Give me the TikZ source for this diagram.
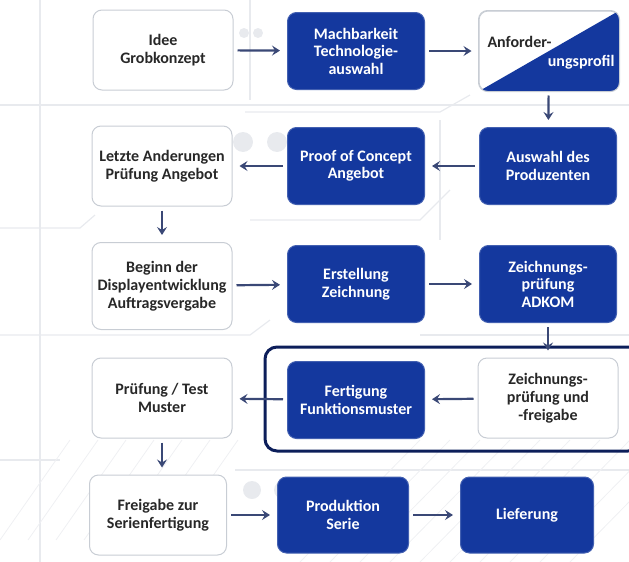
\documentclass[tikz,border=0pt]{standalone}
\usepackage{fontspec}
\setmainfont{Carlito}
\usetikzlibrary{arrows.meta}

\definecolor{boxblue}{RGB}{20,56,158}
\definecolor{framenavy}{RGB}{12,30,90}
\definecolor{arrowgray}{RGB}{58,72,118}
\definecolor{textgray}{RGB}{40,40,40}
\definecolor{rimgray}{RGB}{200,205,212}
\definecolor{tracegray}{RGB}{232,234,238}

\tikzset{
  lightbox/.style={rectangle, rounded corners=9pt, draw=rimgray, line width=1pt, fill=white,
    text=textgray, minimum width=140pt, minimum height=80pt},
  bluebox/.style={rectangle, rounded corners=9pt, draw=boxblue!80, line width=1pt, fill=boxblue,
    text=white, minimum width=137pt, minimum height=77pt},
  trace/.style={draw=tracegray, line width=1.2pt},
}

\begin{document}
\begin{tikzpicture}[x=1pt,y=-1pt]
  \useasboundingbox (0,0) rectangle (629,562);

  % background traces
  \begin{scope}
    \draw[trace] (0,105) -- (629,105);
    \draw[trace] (0,228) -- (80,228) -- (95,215);
    \draw[trace] (245,112) -- (440,112) -- (470,95);
    \draw[trace] (250,220) -- (420,220) -- (450,190);
    \draw[trace] (0,335) -- (250,335) -- (270,320);
    \draw[trace] (420,335) -- (629,335);
    \draw[trace] (0,460) -- (60,460);
    \draw[trace] (235,470) -- (629,470);
    \draw[trace] (40,0) -- (40,562);
    \draw[trace] (250,0) -- (250,100);
    \draw[trace] (440,120) -- (440,240);
    \foreach \i in {0,...,9}
      \draw[tracegray!70, line width=0.8pt] (300+\i*30,562) -- (420+\i*30,440);
    \foreach \i in {0,...,6}
      \draw[tracegray!70, line width=0.8pt] (0+\i*28,540) -- (70+\i*28,440);
    \fill[tracegray] (244,33) circle (5pt) (258,33) circle (5pt);
    \fill[tracegray] (243,142) circle (10pt) (277,142) circle (10pt);
    \fill[tracegray] (252,490) circle (9pt) (283,490) circle (9pt) (313,490) circle (9pt);
  \end{scope}

  % highlight frame
  \draw[framenavy, line width=3pt, rounded corners=12pt] (265,347) rectangle (640,451);

  \begin{scope}[every node/.style={lightbox, align=center,
      font=\bfseries\fontsize{16}{18}\selectfont}]
    \node (1)  at (163,50)  {Idee\\Grobkonzept};
    \node (6)  at (162,166) {Letzte Anderungen\\Prüfung Angebot};
    \node[minimum height=87pt] (7) at (162,286) {Beginn der\\Displayentwicklung\\Auftragsvergabe};
    \node (10) at (548,398) {Zeichnungs-\\prüfung und\\-freigabe};
    \node (12) at (162,398) {Prüfung / Test\\Muster};
    \node[minimum width=137pt] (13) at (158,515) {Freigabe zur\\Serienfertigung};
    \node (3)  at (549,51)  {};
  \end{scope}

  % split box
  \begin{scope}
    \clip[rounded corners=9pt] (3.north west) rectangle (3.south east);
    \fill[boxblue] (3.south west) -- (3.north east) -- (3.south east) -- cycle;
  \end{scope}
  \draw[rimgray, line width=1pt, rounded corners=9pt] (3.north west) rectangle (3.south east);
  \node[anchor=west, text=textgray, font=\bfseries\fontsize{16}{18}\selectfont] (3a) at (484,42) {Anforder-};
  \node[anchor=east, text=white, font=\bfseries\fontsize{16}{18}\selectfont] (3b) at (618,62) {ungsprofil};

  \begin{scope}[every node/.style={bluebox, align=center,
      font=\bfseries\fontsize{16}{17.5}\selectfont}]
    \node (2)  at (356,51)  {Machbarkeit\\Technologie-\\auswahl};
    \node (4)  at (548,166) {Auswahl des\\Produzenten};
    \node (5)  at (356,166) {Proof of Concept\\Angebot};
    \node (8)  at (356,284) {Erstellung\\Zeichnung};
    \node (9)  at (548,284) {Zeichnungs-\\prüfung\\ADKOM};
    \node (11) at (356,400) {Fertigung\\Funktionsmuster};
    \node[minimum width=131pt, minimum height=76pt] (14) at (343,515) {Produktion\\Serie};
    \node[minimum width=133pt, minimum height=76pt] (15) at (527,515) {Lieferung};
  \end{scope}

  \begin{scope}[every edge/.style={draw=arrowgray, line width=2.2pt,
      -{Stealth[length=8pt, width=10pt, inset=3pt]}, shorten <=4pt, shorten >=7pt}]
    \path (1)  edge (2);
    \path (2)  edge (3);
    \path (3)  edge (4);
    \path (4)  edge (5);
    \path (5)  edge (6);
    \path (6)  edge (7);
    \path (7)  edge (8);
    \path (8)  edge (9);
    \path (9)  edge (10);
    \path (10) edge (11);
    \path (11) edge (12);
    \path (12) edge (12 |- 13.north);
    \path (13) edge (14);
    \path (14) edge (15);
  \end{scope}

\end{tikzpicture}
\end{document}
